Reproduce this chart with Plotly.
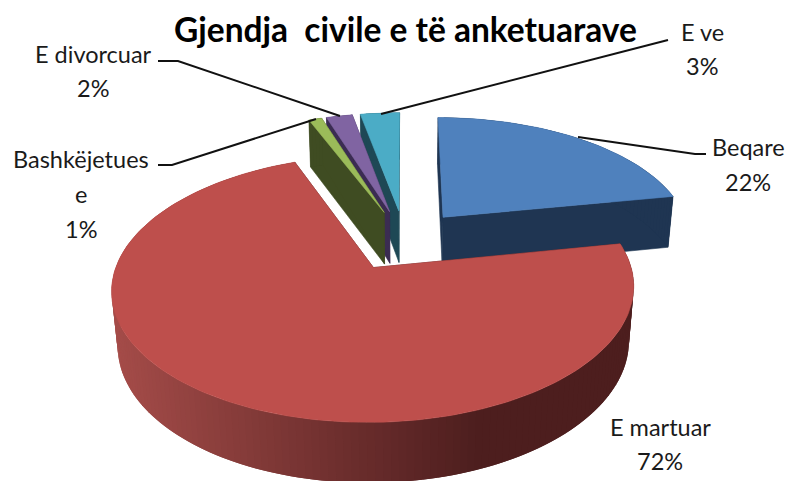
import math
import plotly.graph_objects as go

# ---- data ----
labels = ["Beqare", "E martuar", "Bashkëjetues e", "E divorcuar", "E ve"]
values = [22, 72, 1, 2, 3]
title_text = "Gjendja\u00a0 civile e të anketuarave"

top_colors = ["#4F81BD", "#BE4F4C", "#9BBB59", "#8064A2", "#4BACC6"]
side_colors = ["#1F3552", "#4D1E1E", "#3F4C22", "#3B2C52", "#1E4855"]

# ---- projection of the tilted disc ----
CX, CY = 404.5, 240    # disc centre on the page
A, B = 249, 121.5      # horizontal / vertical radii
K = 0.154              # perspective toward the viewer
C_D, M = 54, 0.02      # extrusion depth and its shrink
PULL = 0.25


def proj(u, v, w=0.0):
    d = 1 - K * v + M * w
    return CX + A * u / d, CY + (B * v + C_D * w) / d


def lerp(c1, c2, t):
    a = [int(c1[i:i + 2], 16) for i in (1, 3, 5)]
    b = [int(c2[i:i + 2], 16) for i in (1, 3, 5)]
    return "rgb(%d,%d,%d)" % tuple(round(p + (q - p) * t) for p, q in zip(a, b))


fig = go.Figure()


def poly(pts, color, lw=0.6):
    xs = [p[0] for p in pts] + [pts[0][0]]
    ys = [p[1] for p in pts] + [pts[0][1]]
    fig.add_trace(go.Scatter(x=xs, y=ys, mode="lines", fill="toself", fillcolor=color,
                             line=dict(color=color, width=lw), hoverinfo="skip", showlegend=False))


total = sum(values)
spans = []
acc = 0.0
for val in values:
    spans.append((acc / total * 2 * math.pi, (acc + val) / total * 2 * math.pi))
    acc += val

for idx in [4, 3, 2, 0, 1]:
    a0, a1 = spans[idx]
    mid = (a0 + a1) / 2
    ou, ov = PULL * math.sin(mid), -PULL * math.cos(mid)
    n = max(4, int((a1 - a0) / (2 * math.pi) * 240))
    rim = []
    for i in range(n + 1):
        t = a0 + (a1 - a0) * i / n
        rim.append((ou + math.sin(t), ov - math.cos(t)))
    # radial faces
    poly([proj(ou, ov), proj(*rim[0]), proj(*rim[0], 1), proj(ou, ov, 1)], side_colors[idx])
    poly([proj(ou, ov), proj(*rim[-1]), proj(*rim[-1], 1), proj(ou, ov, 1)], side_colors[idx])
    # outer wall: overlapping quads so no seams show through
    for i in range(n):
        p, q = rim[i], rim[min(i + 2, n)]
        col = side_colors[idx]
        if idx == 1:
            x_mid = proj(*rim[i])[0]
            col = lerp("#A54C49", "#4D1E1E", min(1, max(0, (x_mid - 112) / 370)))
        poly([proj(*p), proj(*q), proj(*q, 1), proj(*p, 1)], col, lw=0)
    # top
    poly([proj(ou, ov)] + [proj(*r) for r in rim], top_colors[idx])

# ---- leader lines ----
leaders = [
    ([578, 695, 706], [137, 154, 154]),
    ([381, 668], [114, 40]),
    ([340, 178, 158], [116, 61, 61]),
    ([316, 172, 158], [119, 165, 165]),
]
for lx, ly in leaders:
    fig.add_trace(go.Scatter(x=lx, y=ly, mode="lines", line=dict(color="#111111", width=2),
                             hoverinfo="skip", showlegend=False))

# ---- labels ----
label_lines = [
    ("Beqare", 748, 147), (f"{values[0]}%", 748, 182),
    ("E martuar", 660, 427), (f"{values[1]}%", 660, 461),
    ("Bashkëjetues", 81, 159), ("e", 81, 194), (f"{values[2]}%", 81, 229),
    ("E divorcuar", 93, 54), (f"{values[3]}%", 93, 88),
    ("E ve", 702, 32), (f"{values[4]}%", 702, 66),
]
for txt, x, y in label_lines:
    fig.add_annotation(x=x, y=y, text=txt, showarrow=False, xanchor="center", yanchor="middle",
                       font=dict(family="Lato", size=23.5, color="#1a1a1a"))

fig.add_annotation(x=405, y=29, text=f"<b>{title_text}</b>", showarrow=False, xanchor="center",
                   yanchor="middle", font=dict(family="Lato", size=33.5, color="#000000"))

fig.update_layout(
    width=789, height=481, margin=dict(l=0, r=0, t=0, b=0),
    paper_bgcolor="white", plot_bgcolor="white", showlegend=False,
    xaxis=dict(range=[0, 789], visible=False, fixedrange=True),
    yaxis=dict(range=[481, 0], visible=False, fixedrange=True),
)
fig.write_html("out.html", config={"displayModeBar": False},
               post_script="document.body.style.margin='0';")
